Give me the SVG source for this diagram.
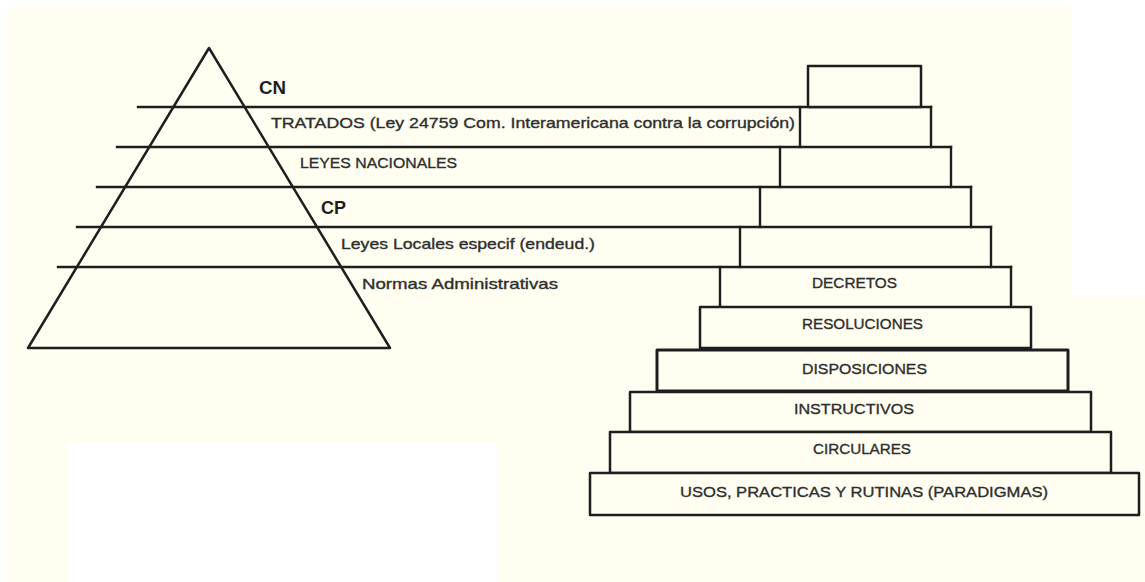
<svg xmlns="http://www.w3.org/2000/svg" width="1145" height="582" viewBox="0 0 1145 582">
<style>
.ln{stroke:#1e1e1e;stroke-width:2.4;fill:none;stroke-linecap:square}
.bx{stroke:#1e1e1e;stroke-width:2.5;fill:#FFFEF1;stroke-linejoin:round}
.t{font-family:"Liberation Sans",Arial,sans-serif;font-size:15px;fill:#2e2e2e;stroke:#2e2e2e;stroke-width:0.35}
.b{font-family:"Liberation Sans",Arial,sans-serif;font-size:18px;font-weight:bold;fill:#1e1e1e}
</style>
<rect x="0" y="0" width="1145" height="582" fill="#FFFFFF"/>
<rect x="7" y="7" width="1064" height="575" fill="#FFFEF1"/>
<rect x="1071" y="297" width="74" height="285" fill="#FFFEF1"/>
<rect x="67" y="443" width="430" height="139" fill="#FFFFFF"/>

<g id="triangle">
<polygon class="bx" points="209,48 28,348 390,348"/>
</g>

<g id="connectors">
<line class="ln" x1="138" y1="107" x2="931" y2="107"/>
<line class="ln" x1="117" y1="147" x2="951" y2="147"/>
<line class="ln" x1="97" y1="187" x2="971" y2="187"/>
<line class="ln" x1="77" y1="227" x2="991" y2="227"/>
<line class="ln" x1="58" y1="267" x2="1011" y2="267"/>
</g>

<g id="cn-top">
<rect class="bx" x="808" y="66" width="113" height="41"/>
<text class="b" x="259" y="94" textLength="27" lengthAdjust="spacingAndGlyphs">CN</text>
</g>

<g id="tratados">
<line class="ln" x1="800" y1="107" x2="800" y2="147"/>
<line class="ln" x1="931" y1="107" x2="931" y2="147"/>
<text class="t" x="271" y="128" textLength="524" lengthAdjust="spacingAndGlyphs">TRATADOS (Ley 24759 Com. Interamericana contra la corrupción)</text>
</g>

<g id="leyes-nacionales">
<line class="ln" x1="780" y1="147" x2="780" y2="187"/>
<line class="ln" x1="951" y1="147" x2="951" y2="187"/>
<text class="t" x="300" y="168" textLength="157" lengthAdjust="spacingAndGlyphs">LEYES NACIONALES</text>
</g>

<g id="cp">
<line class="ln" x1="760" y1="187" x2="760" y2="227"/>
<line class="ln" x1="971" y1="187" x2="971" y2="227"/>
<text class="b" x="321" y="214" textLength="25" lengthAdjust="spacingAndGlyphs">CP</text>
</g>

<g id="leyes-locales">
<line class="ln" x1="740" y1="227" x2="740" y2="267"/>
<line class="ln" x1="991" y1="227" x2="991" y2="267"/>
<text class="t" x="341" y="249" textLength="254" lengthAdjust="spacingAndGlyphs">Leyes Locales especif  (endeud.)</text>
</g>

<g id="normas">
<line class="ln" x1="720" y1="267" x2="720" y2="307"/>
<line class="ln" x1="1011" y1="267" x2="1011" y2="307"/>
<text class="t" x="362" y="289" textLength="196" lengthAdjust="spacingAndGlyphs">Normas Administrativas</text>
<text class="t" x="812" y="288" textLength="85" lengthAdjust="spacingAndGlyphs">DECRETOS</text>
</g>

<g id="resoluciones">
<rect class="bx" x="700" y="307" width="331" height="41"/>
<text class="t" x="802" y="329" textLength="121" lengthAdjust="spacingAndGlyphs">RESOLUCIONES</text>
</g>

<g id="disposiciones">
<rect class="bx" x="657" y="350" width="411" height="41" style="stroke-width:3"/>
<text class="t" x="802" y="374" textLength="125" lengthAdjust="spacingAndGlyphs">DISPOSICIONES</text>
</g>

<g id="instructivos">
<rect class="bx" x="630" y="392" width="461" height="40"/>
<text class="t" x="794" y="414" textLength="120" lengthAdjust="spacingAndGlyphs">INSTRUCTIVOS</text>
</g>

<g id="circulares">
<rect class="bx" x="610" y="432" width="501" height="41"/>
<text class="t" x="813" y="454" textLength="98" lengthAdjust="spacingAndGlyphs">CIRCULARES</text>
</g>

<g id="usos">
<rect class="bx" x="590" y="473" width="549" height="42"/>
<text class="t" x="680" y="497" textLength="368" lengthAdjust="spacingAndGlyphs">USOS, PRACTICAS Y RUTINAS (PARADIGMAS)</text>
</g>
</svg>
